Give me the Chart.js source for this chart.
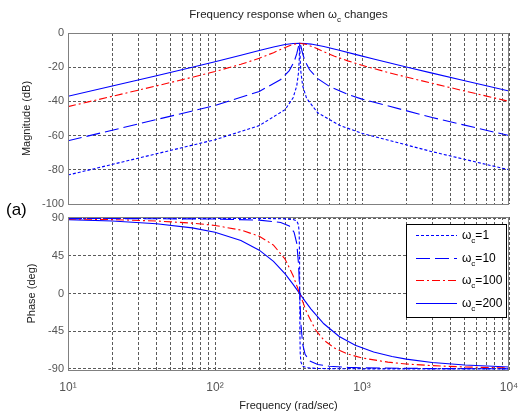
<!DOCTYPE html>
<html><head><meta charset="utf-8">
<script src="https://cdn.jsdelivr.net/npm/chart.js@4.4.1/dist/chart.umd.min.js"></script>
<style>
html,body{margin:0;padding:0;background:#fff;}
#wrap{position:relative;width:519px;height:413px;overflow:hidden;background:#fff;}
canvas{position:absolute;left:0;top:0;}
</style></head><body>
<div id="wrap"><canvas id="mag" width="519" height="413"></canvas><canvas id="phase" width="519" height="413"></canvas></div>
<script>
// ---- data ----
const seriesLabels = ['1', '10', '100', '200'];

const wc1Freq  = [10, 100, 200, 300, 340, 360, 370, 374, 376, 377, 378, 380, 384, 395, 420, 500, 700, 1000, 3000, 10000];
const wc1Mag   = [-83.05, -62.42, -54.16, -44.80, -37.84, -30.85, -23.09, -16.05, -9.04, -6.02, -9.02, -15.99, -22.93, -30.94, -38.24, -46.68, -53.93, -58.67, -69.40, -79.99];
const wc1Phase = [89.99, 89.9, 89.8, 89.3, 88.5, 86.7, 81.9, 71.6, 45.0, 0, -45.0, -71.5, -81.8, -86.7, -88.6, -89.5, -89.8, -89.9, -90, -90];

const wc10Freq  = [10, 100, 200, 280, 320, 345, 360, 370, 374, 377, 380, 385, 395, 410, 440, 500, 600, 800, 1000, 3000, 10000];
const wc10Mag   = [-63.05, -42.42, -34.17, -27.18, -21.99, -16.89, -12.07, -7.78, -6.40, -6.02, -6.39, -8.13, -12.14, -16.45, -21.49, -26.72, -31.21, -35.89, -38.67, -49.40, -59.99];
const wc10Phase = [89.9, 89.1, 87.8, 85.0, 80.8, 73.4, 60.1, 35.2, 16.8, 0, -16.6, -38.4, -60.4, -72.5, -80.3, -84.7, -86.8, -88.2, -88.7, -89.6, -89.9];

const wc100Freq  = [10, 20, 40, 70, 100, 150, 200, 250, 300, 340, 377, 420, 480, 550, 650, 800, 1000, 1500, 2000, 3000, 5000, 10000];
const wc100Mag   = [-43.05, -37.01, -30.93, -25.89, -22.52, -18.30, -14.78, -11.51, -8.46, -6.64, -6.02, -6.69, -8.68, -10.97, -13.54, -16.31, -18.90, -23.04, -25.75, -29.42, -33.94, -39.99];
const wc100Phase = [89.2, 88.4, 86.7, 84.2, 81.4, 75.9, 68.6, 57.9, 41.0, 21.3, 0, -22.2, -42.6, -55.6, -65.1, -72.2, -76.9, -81.9, -84.1, -86.1, -87.7, -88.9];

const wc200Freq  = [10, 20, 40, 70, 100, 150, 200, 250, 300, 340, 377, 410, 450, 550, 700, 900, 1200, 1600, 2000, 3000, 5000, 10000];
const wc200Mag   = [-37.03, -31.00, -24.95, -20.00, -16.78, -12.99, -10.22, -8.15, -6.77, -6.18, -6.02, -6.13, -6.48, -7.87, -10.08, -12.50, -15.22, -17.86, -19.87, -23.46, -27.94, -33.97];
const wc200Phase = [88.4, 86.8, 83.5, 78.5, 73.2, 63.4, 51.9, 38.5, 23.5, 11.0, 0, -9.0, -18.5, -36.1, -51.2, -61.7, -69.7, -75.2, -78.3, -82.3, -85.4, -87.7];

const xGridValues = [10,20,30,40,50,60,70,80,90,100,200,300,400,500,600,700,800,900,1000,2000,3000,4000,5000,6000,7000,8000,9000,10000];
const xDecades = [10, 100, 1000, 10000];
const xDecadeLabels = ['10\u00B9', '10\u00B2', '10\u00B3', '10\u2074'];
const magTicks = [0, -20, -40, -60, -80, -100];
const phaseTicks = [90, 45, 0, -45, -90];

// ---- styling ----
const FONT = "'Liberation Sans', Arial, sans-serif";
const BLUE = '#0000ff', RED = '#ff0000';
const series = [
  {freq: wc1Freq,   mag: wc1Mag,   phase: wc1Phase,   color: BLUE, dash: [3, 2]},
  {freq: wc10Freq,  mag: wc10Mag,  phase: wc10Phase,  color: BLUE, dash: [14, 5]},
  {freq: wc100Freq, mag: wc100Mag, phase: wc100Phase, color: RED,  dash: [8, 3, 2, 3]},
  {freq: wc200Freq, mag: wc200Mag, phase: wc200Phase, color: BLUE, dash: []}
];

function makeDatasets(key) {
  return series.map((s, i) => ({
    label: '\u03C9c=' + seriesLabels[i],
    data: s.freq.map((f, j) => ({x: f, y: s[key][j]})),
    borderColor: s.color, backgroundColor: s.color,
    borderDash: s.dash, borderWidth: 1.1,
    pointRadius: 0, tension: 0, fill: false
  }));
}

function noPad(s) { s.paddingLeft = 0; s.paddingRight = 0; s.paddingTop = 0; s.paddingBottom = 0; }

function xScale(showLabels, h) {
  return {
    type: 'logarithmic', min: 10, max: 10000,
    afterBuildTicks: s => { s.ticks = xGridValues.map(v => ({value: v})); },
    afterFit: s => { s.height = h; noPad(s); },
    grid: {color: '#5a5a5a', lineWidth: 1, drawTicks: false},
    border: {display: false, dash: [3, 2]},
    ticks: {
      display: showLabels, autoSkip: false, maxRotation: 0, minRotation: 0, padding: 10,
      color: '#555', font: {size: 12, family: FONT},
      callback: v => { const i = xDecades.indexOf(v); return i >= 0 ? xDecadeLabels[i] : ''; }
    },
    title: showLabels ? {display: true, text: 'Frequency (rad/sec)', color: '#222',
      font: {size: 11, family: FONT}, padding: {top: 0, bottom: 0}} : {display: false}
  };
}

function yScale(min, max, ticks, title, titlePad) {
  return {
    min: min, max: max,
    afterBuildTicks: s => { s.ticks = ticks.map(v => ({value: v})); },
    afterFit: s => { s.width = 68; noPad(s); },
    grid: {color: '#5a5a5a', lineWidth: 1, drawTicks: false},
    border: {display: false, dash: [3, 2]},
    ticks: {padding: 4, color: '#555', font: {size: 11, family: FONT}},
    title: {display: true, text: title, color: '#222', font: {size: 11, family: FONT},
      padding: {top: titlePad, bottom: 0}}
  };
}

function drawParts(ctx, cx, cy, parts, size, subSize, align) {
  let total = 0;
  parts.forEach(p => { ctx.font = (p.sub ? subSize : size) + 'px ' + FONT; p.w = ctx.measureText(p.t).width; total += p.w; });
  let x = align === 'left' ? cx : cx - total / 2;
  ctx.textBaseline = 'middle'; ctx.textAlign = 'left';
  parts.forEach(p => {
    ctx.font = (p.sub ? subSize : size) + 'px ' + FONT;
    ctx.fillText(p.t, x, p.sub ? cy + size * 0.4 : cy);
    x += p.w;
  });
}

const framePlugin = {
  id: 'frame',
  afterDraw(chart) {
    const {ctx, chartArea: a} = chart;
    ctx.save();
    ctx.strokeStyle = '#808080'; ctx.lineWidth = 1; ctx.setLineDash([]);
    ctx.strokeRect(Math.round(a.left) + 0.5, Math.round(a.top) + 0.5, Math.round(a.width) - 1, Math.round(a.height));
    ctx.restore();
  }
};

const titlePlugin = {
  id: 'titleText',
  afterDraw(chart) {
    const {ctx, chartArea: a} = chart;
    ctx.save();
    ctx.fillStyle = '#222';
    drawParts(ctx, (a.left + a.right) / 2, 15,
      [{t: 'Frequency response when \u03C9'}, {t: 'c', sub: true}, {t: ' changes'}], 11.5, 8);
    ctx.fillStyle = '#000';
    ctx.font = '17px ' + FONT; ctx.textAlign = 'left'; ctx.textBaseline = 'middle';
    ctx.fillText('(a)', 6, a.bottom + 6);
    ctx.restore();
  }
};

const legendPlugin = {
  id: 'boxLegend',
  afterDraw(chart) {
    const {ctx, chartArea: a} = chart;
    const w = 100, h = 93;
    const left = a.right - 3 - w, top = a.top + 7;
    ctx.save();
    ctx.fillStyle = '#fff';
    ctx.fillRect(left, top, w, h);
    ctx.strokeStyle = '#000'; ctx.lineWidth = 1; ctx.setLineDash([]);
    ctx.strokeRect(Math.round(left) + 0.5, Math.round(top) + 0.5, w, h);
    chart.data.datasets.forEach((ds, i) => {
      const y = Math.round(top + 11 + i * 22.6) + 0.5;
      ctx.strokeStyle = ds.borderColor; ctx.lineWidth = 1.1;
      ctx.setLineDash(ds.borderDash || []);
      ctx.beginPath(); ctx.moveTo(left + 10, y); ctx.lineTo(left + 51, y); ctx.stroke();
      ctx.setLineDash([]);
      ctx.fillStyle = '#000';
      drawParts(ctx, left + 56, y, [{t: '\u03C9'}, {t: 'c', sub: true}, {t: '=' + seriesLabels[i]}], 12, 8, 'left');
    });
    ctx.restore();
  }
};

const common = {
  responsive: false, animation: false, devicePixelRatio: 1,
  plugins: {legend: {display: false}, tooltip: {enabled: false}}
};

new Chart(document.getElementById('mag'), {
  type: 'line',
  data: {datasets: makeDatasets('mag')},
  options: Object.assign({}, common, {
    layout: {padding: {left: 0, right: 10, top: 33, bottom: 0}},
    scales: {x: xScale(false, 209), y: yScale(-100, 0, magTicks, 'Magnitude (dB)', 20)}
  }),
  plugins: [framePlugin, titlePlugin]
});

new Chart(document.getElementById('phase'), {
  type: 'line',
  data: {datasets: makeDatasets('phase')},
  options: Object.assign({}, common, {
    layout: {padding: {left: 0, right: 10, top: 217, bottom: 0}},
    scales: {x: xScale(true, 43), y: yScale(-91.3, 91.5, phaseTicks, 'Phase (deg)', 25)}
  }),
  plugins: [framePlugin, legendPlugin]
});
</script>
</body></html>
